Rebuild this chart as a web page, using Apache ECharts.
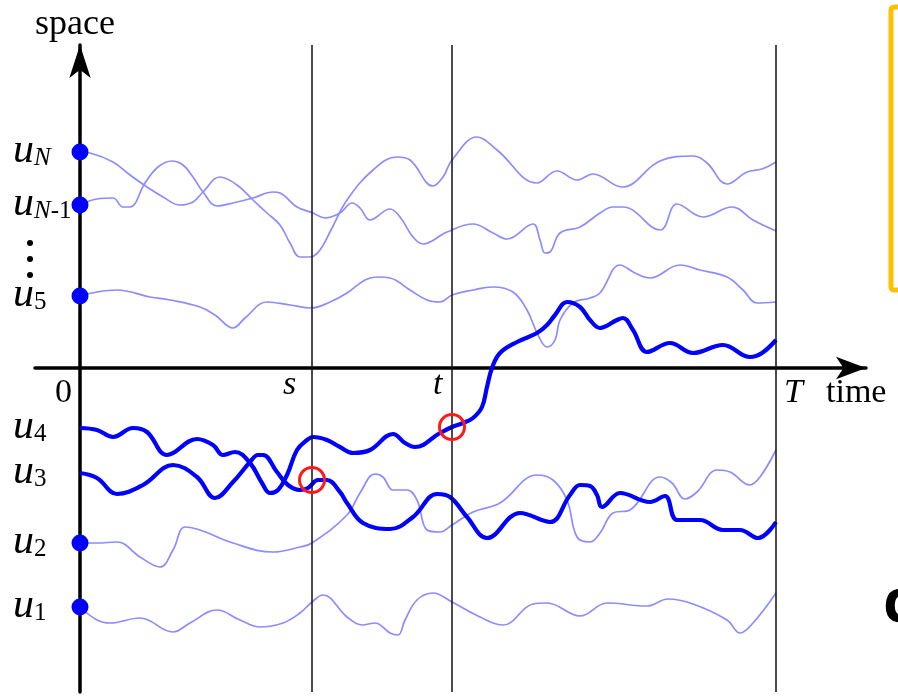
<!DOCTYPE html>
<html>
<head>
<meta charset="utf-8">
<title>paths in space and time</title>
<script src="https://cdn.jsdelivr.net/npm/echarts@6/dist/echarts.min.js"></script>
<style>
html, body { margin: 0; padding: 0; background: #fff; }
#main { width: 898px; height: 696px; }
</style>
</head>
<body>
<div id="main"></div>
<script>
// time marks s, t, T (x units, T is the end of the run)
var timeMarks = [232, 372, 696]

// start levels on the space axis: u_N, u_N-1, u_5, u_4, u_3, u_2, u_1
var startNames = ['N', 'N-1', '5', '4', '3', '2', '1']
var startLevels = [216, 163, 72, -60, -105, -175, -239]
var startDotted = [true, true, true, false, false, true, true]

// the two marked crossings (at s and at t)
var hitPoints = [[232, -112], [372, -59]]

// faint paths
var pathUN = [[0,216],[10,215],[33,206],[50,193],[67,181],[83,171],[100,163],[113,166],[123,176],[140,191],[157,183],[173,168],[187,155],[200,143],[210,125],[220,111],[230,111],[240,118],[250,136],[267,168],[293,198],[317,211],[330,208],[353,182],[363,191],[372,208],[397,231],[417,218],[457,185],[477,197],[497,188],[513,194],[542,181],[580,207],[613,212],[627,205],[647,184],[667,196],[682,199],[696,206]]
var pathUN1 = [[0,163],[17,169],[33,170],[43,161],[50,161],[65,185],[78,201],[92,207],[103,203],[113,191],[123,176],[137,162],[153,165],[173,170],[193,176],[200,175],[217,161],[233,155],[245,150],[260,155],[272,165],[280,160],[290,148],[310,159],[320,151],[333,131],[343,124],[367,136],[393,144],[413,135],[427,129],[453,144],[460,128],[465,115],[470,116],[480,135],[500,141],[520,155],[533,161],[543,161],[580,138],[597,164],[623,151],[652,161],[673,148],[696,137]]
var pathU5 = [[0,72],[17,76],[37,78],[70,71],[90,68],[120,61],[135,53],[153,40],[165,50],[187,66],[210,63],[231,60],[250,66],[267,75],[285,88],[297,91],[310,90],[330,78],[347,68],[360,66],[372,73],[393,78],[413,81],[433,76],[447,58],[458,33],[467,21],[475,28],[480,48],[493,65],[510,70],[520,75],[540,103],[555,95],[570,90],[600,103],[620,98],[647,91],[663,78],[677,65],[696,66]]
var pathU2 = [[0,-175],[17,-175],[37,-174],[60,-189],[80,-199],[93,-182],[105,-159],[120,-162],[153,-175],[193,-184],[220,-179],[232,-175],[267,-147],[280,-125],[295,-106],[303,-109],[313,-122],[327,-122],[337,-132],[347,-162],[360,-164],[372,-157],[393,-144],[420,-135],[457,-107],[473,-112],[487,-132],[497,-169],[510,-174],[520,-165],[533,-145],[550,-142],[580,-109],[592,-115],[605,-131],[617,-124],[637,-102],[650,-104],[670,-117],[680,-109],[696,-82]]
var pathU1 = [[0,-239],[17,-252],[30,-255],[60,-250],[93,-264],[110,-255],[137,-242],[160,-252],[180,-259],[203,-255],[220,-245],[232,-234],[243,-227],[267,-249],[282,-257],[295,-255],[310,-265],[318,-267],[325,-252],[337,-232],[353,-225],[372,-234],[400,-249],[423,-257],[453,-236],[467,-235],[500,-248],[527,-235],[567,-238],[588,-231],[613,-236],[647,-252],[660,-265],[673,-255],[696,-225]]

// bold paths
var pathU4 = [[0,-60],[17,-62],[33,-69],[53,-60],[67,-64],[87,-87],[117,-71],[133,-77],[143,-87],[155,-84],[170,-95],[182,-115],[190,-125],[198,-122],[207,-107],[217,-82],[227,-72],[233,-69],[247,-72],[260,-79],[273,-85],[290,-82],[313,-66],[325,-75],[335,-79],[360,-65],[372,-59],[383,-55],[393,-50],[402,-39],[407,-19],[412,0],[420,15],[437,26],[457,35],[467,43],[475,53],[487,66],[500,61],[510,48],[520,40],[537,48],[543,50],[553,38],[567,16],[590,25],[613,15],[643,23],[670,11],[682,15],[696,28]]
var pathU3 = [[0,-105],[17,-110],[37,-126],[63,-117],[93,-97],[117,-109],[135,-130],[153,-114],[170,-94],[178,-87],[183,-87],[197,-104],[208,-117],[220,-122],[228,-120],[238,-112],[247,-112],[260,-124],[267,-135],[283,-155],[310,-161],[333,-149],[357,-126],[370,-129],[387,-149],[407,-170],[440,-145],[470,-154],[490,-127],[500,-117],[510,-118],[517,-127],[522,-139],[540,-125],[570,-134],[585,-128],[597,-152],[620,-152],[643,-162],[660,-162],[678,-170],[696,-154]]

var myChart = echarts.init(document.getElementById('main'))

var faint = '#8c8cff'
var bold = '#0000ff'
var serif = '"Liberation Serif", "DejaVu Serif", serif'

function pathSeries (data, color, width) {
  return {
    type: 'line',
    data: data,
    showSymbol: false,
    silent: true,
    smooth: 0.4,
    lineStyle: { color: color, width: width },
    z: width > 3 ? 4 : 3
  }
}

function startLabel (name) {
  if (name === 'N') return '{u|u}{si|N}'
  if (name === 'N-1') return '{u|u}{si|N}{sn|-1}'
  return '{u|u}{sn|' + name + '}'
}

var series = [
  pathSeries(pathUN, faint, 1.7),
  pathSeries(pathUN1, faint, 1.7),
  pathSeries(pathU5, faint, 1.7),
  pathSeries(pathU2, faint, 1.7),
  pathSeries(pathU1, faint, 1.7),
  pathSeries(pathU4, bold, 4.2),
  pathSeries(pathU3, bold, 4.2)
]

// vertical time lines s, t, T
series[0].markLine = {
  silent: true,
  symbol: ['none', 'none'],
  label: { show: false },
  lineStyle: { color: '#111', width: 1.5, type: 'solid' },
  data: timeMarks.map(function (x) { return { xAxis: x } })
}

// start dots
series.push({
  type: 'scatter',
  silent: true,
  symbolSize: 17,
  itemStyle: { color: bold, opacity: 1 },
  z: 6,
  data: startLevels.filter(function (v, i) { return startDotted[i] }).map(function (v) { return [0, v] })
})

// start labels u_i
series.push({
  type: 'scatter',
  silent: true,
  symbolSize: 2,
  itemStyle: { color: 'rgba(0,0,0,0)', opacity: 1 },
  z: 6,
  data: startLevels.map(function (v, i) { return { value: [0, v], name: startNames[i] } }),
  label: {
    show: true,
    position: [-66, 0],
    align: 'left',
    verticalAlign: 'middle',
    color: '#000',
    opacity: 1,
    formatter: function (p) { return startLabel(p.name) },
    rich: {
      u: { fontFamily: serif, fontStyle: 'italic', fontSize: 42, lineHeight: 40, color: '#000' },
      si: { fontFamily: serif, fontStyle: 'italic', fontSize: 25, lineHeight: 16, verticalAlign: 'bottom', color: '#000' },
      sn: { fontFamily: serif, fontSize: 25, lineHeight: 16, verticalAlign: 'bottom', color: '#000' }
    }
  }
})

// marked crossings
series.push({
  type: 'scatter',
  silent: true,
  symbolSize: 25,
  itemStyle: { color: 'rgba(0,0,0,0)', borderColor: '#ff1a1a', borderWidth: 3, opacity: 1 },
  z: 7,
  data: hitPoints
})

var option = {
  animation: false,
  backgroundColor: '#fff',
  grid: { left: 35, right: 32, top: 45, bottom: 4 },
  xAxis: {
    type: 'value',
    min: -45,
    max: 786,
    axisLine: {
      show: true,
      onZero: true,
      symbol: ['none', 'arrow'],
      symbolSize: [17, 30],
      lineStyle: { color: '#000', width: 3.5 }
    },
    axisTick: { show: false },
    axisLabel: { show: false },
    splitLine: { show: false }
  },
  yAxis: {
    type: 'value',
    min: -324,
    max: 323,
    axisLine: {
      show: true,
      onZero: true,
      symbol: ['none', 'arrow'],
      symbolSize: [16, 33],
      lineStyle: { color: '#000', width: 3.5 }
    },
    axisTick: { show: false },
    axisLabel: { show: false },
    splitLine: { show: false }
  },
  graphic: [
    { type: 'text', left: 35, top: 7, style: { text: 'space', font: '36px ' + serif, fill: '#000' } },
    { type: 'text', x: 826, y: 393, style: { text: 'time', font: '34px ' + serif, fill: '#000', verticalAlign: 'middle' } },
    { type: 'text', x: 784, y: 393, style: { text: 'T', font: 'italic 34px ' + serif, fill: '#000', verticalAlign: 'middle' } },
    { type: 'text', x: 55, y: 393, style: { text: '0', font: '34px ' + serif, fill: '#000', verticalAlign: 'middle' } },
    { type: 'text', x: 283, y: 385, style: { text: 's', font: 'italic 34px ' + serif, fill: '#000', verticalAlign: 'middle' } },
    { type: 'text', x: 433, y: 385, style: { text: 't', font: 'italic 34px ' + serif, fill: '#000', verticalAlign: 'middle' } },
    { type: 'circle', shape: { cx: 30, cy: 243, r: 3 }, style: { fill: '#000' } },
    { type: 'circle', shape: { cx: 30, cy: 259, r: 3 }, style: { fill: '#000' } },
    { type: 'circle', shape: { cx: 30, cy: 275, r: 3 }, style: { fill: '#000' } },
    { type: 'rect', shape: { x: 891, y: 7, width: 40, height: 283, r: 3 }, style: { fill: 'none', stroke: '#ffc000', lineWidth: 5 } },
    { type: 'text', x: 883, y: 605, style: { text: 'c', font: 'bold 60px "Open Sans", "DejaVu Sans", sans-serif', fill: '#000', verticalAlign: 'middle' } }
  ],
  series: series
}

myChart.setOption(option)
</script>
</body>
</html>
